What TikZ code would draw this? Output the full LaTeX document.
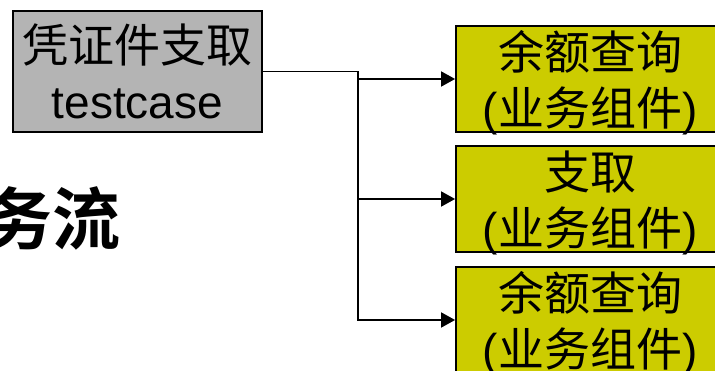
\documentclass[tikz,border=0pt]{standalone}
\usepackage{fontspec}
\setmainfont{Liberation Sans}
\newfontfamily\cjk{Noto Sans CJK SC}
\newfontfamily\cjkbold{Noto Sans CJK SC Bold}
\usetikzlibrary{arrows.meta}
\definecolor{boxgray}{HTML}{B4B4B4}
\definecolor{olive}{HTML}{CCCC00}
\begin{document}
\begin{tikzpicture}[x=1pt,y=-1pt,
  txt/.style={font=\fontsize{46}{56}\selectfont, align=center, inner sep=0pt},
  casebox/.style={draw=black, line width=1.8pt, fill=boxgray, minimum width=249pt, minimum height=121pt, txt},
  compbox/.style={draw=black, line width=1.8pt, fill=olive, minimum width=268pt, minimum height=106pt, txt},
  comptext/.style={txt},
  conn/.style={line width=1.8pt, draw=black},
  arr/.style={conn, -{Triangle[length=14pt,width=15pt]}}]
\useasboundingbox (0,0) rectangle (715,371);
\node[casebox] (g) at (137.5,71.5) {{\cjk 凭证件支取}\\testcase};
\node[compbox] (y1) at (590,79) {};
\node[compbox] (y2) at (590,199) {};
\node[compbox] (y3) at (590,320) {};
\node[comptext] (y1t) at (590,83) {{\cjk 余额查询}\\({\cjk 业务组件})};
\node[comptext] (y2t) at (590,203) {{\cjk 支取}\\({\cjk 业务组件})};
\node[comptext] (y3t) at (590,324) {{\cjk 余额查询}\\({\cjk 业务组件})};
\node[inner sep=0pt, anchor=east, font=\cjkbold\fontsize{68}{68}\selectfont] (t) at (121,219) {务流};
\coordinate (j) at (358,71.5);
\draw[conn] (g.east) -- (j);
\draw[arr] (j) |- (y1.west);
\draw[arr] (j) |- (y2.west);
\draw[arr] (j) |- (y3.west);
\end{tikzpicture}
\end{document}
